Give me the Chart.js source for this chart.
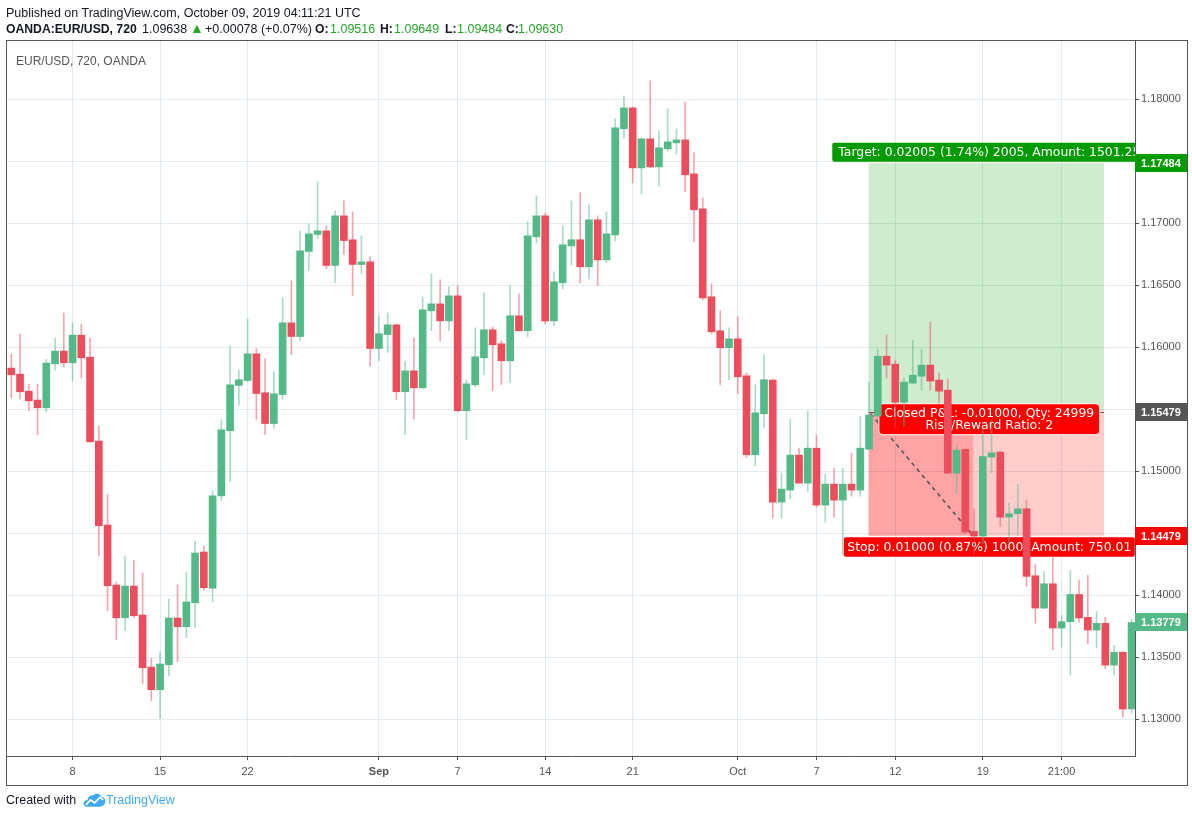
<!DOCTYPE html>
<html><head><meta charset="utf-8">
<script src="https://cdn.jsdelivr.net/npm/chart.js@4.4.0/dist/chart.umd.min.js"></script>
<style>
html,body{margin:0;padding:0;background:#fff;width:1192px;height:818px;overflow:hidden;}
#wrap{position:relative;width:1192px;height:818px;}
canvas{position:absolute;left:0;top:0;}
.t{position:absolute;white-space:nowrap;font-family:"Liberation Sans",Arial,sans-serif;font-size:12.5px;line-height:14px;color:#131722;}
.b{font-weight:bold;font-size:12.2px;}
.g{color:#26a626;}
</style></head><body>
<div id="wrap">
<canvas id="c" width="1192" height="818"></canvas>
<div class="t" style="left:6px;top:6px;">Published on TradingView.com, October 09, 2019 04:11:21 UTC</div>
<div class="t b" style="left:6px;top:22px;">OANDA:EUR/USD, 720</div>
<div class="t" style="left:142px;top:22px;">1.09638</div>
<div class="t g" style="left:190px;top:21px;font-size:14px;">▲</div>
<div class="t" style="left:205px;top:22px;">+0.00078 (+0.07%)</div>
<div class="t b" style="left:315px;top:22px;">O:</div><div class="t g" style="left:330px;top:22px;">1.09516</div>
<div class="t b" style="left:380px;top:22px;">H:</div><div class="t g" style="left:394px;top:22px;">1.09649</div>
<div class="t b" style="left:445px;top:22px;">L:</div><div class="t g" style="left:457px;top:22px;">1.09484</div>
<div class="t b" style="left:506px;top:22px;">C:</div><div class="t g" style="left:518px;top:22px;">1.09630</div>
<div class="t" style="left:16px;top:54px;font-size:12px;color:#555;">EUR/USD, 720, OANDA</div>
<div class="t" style="left:6px;top:793px;">Created with</div>
<svg style="position:absolute;left:83px;top:792px;" width="23" height="16" viewBox="0 0 24 16"><path d="M5 15 C1.5 15 0 12.5 0.8 10.5 C1.5 8.5 3.5 8 4.5 8.2 C5 4.5 8 2.5 11 3 C13.5 0.5 18 1 19.5 4.5 C22.5 5 24 8 23 11 C22.3 13.5 20.5 15 18 15 Z" fill="#3fa9f5"/><polyline points="3,13 8,8 12,11 18,5 21,8" fill="none" stroke="#fff" stroke-width="1.8"/></svg>
<div class="t" style="left:106px;top:793px;color:#3fa9f5;">TradingView</div>
</div>
<script>
// ---- data (EUR/USD 12h candles) ----
const openP = [
1.15831,1.15782,1.15645,1.15573,1.15511,1.15866,1.15968,1.15874,1.16097,1.15919,
1.15242,1.14565,1.14081,1.13817,1.14073,1.13839,1.13419,1.13237,1.13438,1.13815,
1.13745,1.13938,1.14347,1.14056,1.14800,1.15325,1.15691,1.15731,1.15946,1.15632,
1.15384,1.15618,1.16196,1.16086,1.16772,1.16909,1.16938,1.16659,1.17059,1.16866,
1.16667,1.16688,1.15989,1.16102,1.16180,1.15640,1.15809,1.15672,1.16293,1.16349,
1.16212,1.16414,1.15487,1.15696,1.15914,1.16140,1.16027,1.15890,1.16253,1.16132,
1.16890,1.17059,1.16212,1.16519,1.16817,1.16866,1.16648,1.17027,1.16704,1.16906,
1.17761,1.17930,1.17446,1.17680,1.17454,1.17600,1.17648,1.17672,1.17398,1.17116,
1.16406,1.16132,1.15995,1.16067,1.15769,1.15132,1.15462,1.15734,1.14750,1.14847,
1.15129,1.14903,1.15185,1.14726,1.14895,1.14766,1.14895,1.14847,1.15177,1.15444,
1.15927,1.15863,1.15556,1.15710,1.15766,1.15855,1.15734,1.15653,1.14984,1.15175,
1.14513,1.14476,1.15113,1.15153,1.14629,1.14656,1.14696,1.14156,1.13895,1.14091,
1.13734,1.13785,1.14005,1.13820,1.13718,1.13772,1.13435,1.13538,1.13081];
const highP = [
1.15944,1.16105,1.15702,1.15702,1.15901,1.16073,1.16274,1.16194,1.16185,1.16073,
1.15363,1.14815,1.14105,1.14315,1.14282,1.14177,1.13492,1.13540,1.13968,1.14081,
1.14185,1.14435,1.14395,1.14840,1.15414,1.16011,1.15817,1.16228,1.15987,1.15906,
1.15801,1.16398,1.16535,1.16938,1.16995,1.17333,1.16978,1.17099,1.17180,1.17091,
1.16898,1.16728,1.16253,1.16277,1.16188,1.15887,1.16075,1.16406,1.16591,1.16543,
1.16487,1.16495,1.15737,1.16156,1.16438,1.16164,1.16051,1.16495,1.16430,1.17011,
1.17220,1.17083,1.16608,1.16978,1.17180,1.17245,1.17148,1.17059,1.17091,1.17841,
1.18027,1.17938,1.17688,1.18148,1.17745,1.17922,1.17761,1.17978,1.17567,1.17204,
1.16511,1.16293,1.16156,1.16245,1.15793,1.15696,1.15938,1.15742,1.14984,1.15419,
1.15185,1.15484,1.15290,1.14976,1.15024,1.15024,1.15145,1.15444,1.15718,1.15984,
1.16097,1.15892,1.15750,1.16056,1.15984,1.16202,1.15790,1.15742,1.15207,1.15180,
1.14696,1.15333,1.15409,1.15161,1.14742,1.14892,1.14763,1.14247,1.14191,1.14317,
1.13836,1.14199,1.14118,1.14159,1.13868,1.13820,1.13594,1.13546,1.13804];
const lowP = [
1.15591,1.15583,1.15487,1.15293,1.15478,1.15817,1.15841,1.15726,1.15750,1.15230,
1.14315,1.13874,1.13640,1.13712,1.13820,1.13285,1.13148,1.13003,1.13350,1.13462,
1.13656,1.13737,1.14040,1.13946,1.14760,1.14914,1.15530,1.15723,1.15417,1.15296,
1.15344,1.15578,1.15941,1.16054,1.16618,1.16876,1.16634,1.16522,1.16747,1.16417,
1.16594,1.15844,1.15890,1.15957,1.15575,1.15293,1.15422,1.15664,1.16132,1.16051,
1.16132,1.15480,1.15253,1.15680,1.15777,1.15648,1.15696,1.15712,1.16130,1.16083,
1.16841,1.16188,1.16172,1.16470,1.16664,1.16519,1.16551,1.16495,1.16680,1.16858,
1.17688,1.17325,1.17237,1.17446,1.17301,1.17583,1.17559,1.17253,1.16849,1.16382,
1.16108,1.15696,1.15737,1.15624,1.15108,1.15043,1.15349,1.14621,1.14621,1.14774,
1.14900,1.14831,1.14710,1.14589,1.14629,1.14323,1.14798,1.14798,1.15170,1.15400,
1.15750,1.15347,1.15363,1.15710,1.15653,1.15653,1.15550,1.14984,1.14817,1.14500,
1.14333,1.14414,1.14987,1.14554,1.14374,1.14481,1.14070,1.13774,1.13890,1.13559,
1.13581,1.13355,1.13782,1.13608,1.13573,1.13406,1.13355,1.13016,1.13048];
const closeP = [
1.15777,1.15640,1.15567,1.15511,1.15871,1.15968,1.15874,1.16097,1.15914,1.15237,
1.14559,1.14075,1.13817,1.14073,1.13833,1.13414,1.13237,1.13444,1.13815,1.13745,
1.13944,1.14339,1.14059,1.14800,1.15333,1.15696,1.15737,1.15946,1.15626,1.15384,
1.15624,1.16196,1.16086,1.16777,1.16914,1.16938,1.16659,1.17059,1.16860,1.16667,
1.16688,1.15989,1.16108,1.16180,1.15640,1.15809,1.15672,1.16301,1.16349,1.16212,
1.16414,1.15487,1.15704,1.15922,1.16140,1.16019,1.15890,1.16253,1.16132,1.16898,
1.17059,1.16212,1.16527,1.16825,1.16866,1.16648,1.17027,1.16704,1.16914,1.17769,
1.17930,1.17446,1.17680,1.17454,1.17608,1.17656,1.17672,1.17390,1.17108,1.16398,
1.16124,1.15995,1.16067,1.15761,1.15132,1.15470,1.15737,1.14750,1.14855,1.15129,
1.14903,1.15185,1.14726,1.14895,1.14766,1.14895,1.14847,1.15185,1.15452,1.15927,
1.15855,1.15556,1.15718,1.15774,1.15855,1.15726,1.15645,1.14984,1.15169,1.14508,
1.14476,1.15118,1.15148,1.14629,1.14656,1.14696,1.14151,1.13895,1.14091,1.13734,
1.13785,1.14005,1.13815,1.13718,1.13772,1.13435,1.13538,1.13081,1.13779];

const xTickIdx = [7, 17, 27, 42, 51, 61, 71, 83, 92, 101, 111, 120];
const xTickLbl = ['8', '15', '22', 'Sep', '7', '14', '21', 'Oct', '7', '12', '19', '21:00'];
const yTicks = [1.13, 1.135, 1.14, 1.145, 1.15, 1.155, 1.16, 1.165, 1.17, 1.175, 1.18];
const yHidden = [1.145, 1.155, 1.175];

// position tool (long position)
const entryPrice = 1.15479, targetPrice = 1.17484, stopPrice = 1.14479, lastPrice = 1.13779;
const posStartIdx = 97.95, posEndIdx = 124.85, posCloseIdx = 109.9;
const targetText = 'Target: 0.02005 (1.74%) 2005, Amount: 1501.25';
const closedText = ['Closed P&L: -0.01000, Qty: 24999', 'Risk/Reward Ratio: 2'];
const stopText = 'Stop: 0.01000 (0.87%) 1000, Amount: 750.01';

// ---- styles ----
const UP = '#53b987', DN = '#eb4d5c', UPW = 'rgba(83,185,135,0.5)', DNW = 'rgba(235,77,92,0.5)';
const GRID = '#e1ecf2', AX = '#555';

const idx = openP.map((_, i) => i);
const up = idx.map(i => closeP[i] >= openP[i]);
const bodyData = idx.map(i => ({x: i, y: [Math.min(openP[i], closeP[i]), Math.max(openP[i], closeP[i])]}));
const wickData = idx.map(i => ({x: i, y: [lowP[i], highP[i]]}));

function drawLabel(ctx, lines, cx, top, h, pad, color, border) {
  ctx.font = '12.4px "DejaVu Sans", Verdana, sans-serif';
  const w = Math.max(...lines.map(l => ctx.measureText(l).width)) + pad * 2;
  const x = cx - w / 2;
  ctx.beginPath();
  ctx.roundRect(x, top, w, h, border ? 4 : 2);
  ctx.fillStyle = color; ctx.fill();
  if (border) { ctx.strokeStyle = '#fff'; ctx.lineWidth = 1; ctx.stroke(); }
  ctx.fillStyle = '#fff'; ctx.textAlign = 'center'; ctx.textBaseline = 'middle';
  const n = lines.length;
  lines.forEach((l, k) => ctx.fillText(l, cx, top + h / 2 + (k - (n - 1) / 2) * 12 + 0.5));
}

const overlay = {
  id: 'overlay',
  beforeDatasetsDraw(chart) {
    const {ctx, chartArea: a, scales: {x, y}} = chart;
    ctx.save();
    ctx.beginPath(); ctx.rect(a.left, a.top, a.right - a.left, a.bottom - a.top); ctx.clip();
    const x0 = x.getPixelForValue(posStartIdx), x1 = x.getPixelForValue(posEndIdx), xc = x.getPixelForValue(posCloseIdx);
    const yT = y.getPixelForValue(targetPrice), yE = y.getPixelForValue(entryPrice), yS = y.getPixelForValue(stopPrice);
    ctx.fillStyle = 'rgba(0,153,0,0.19)'; ctx.fillRect(x0, yT, x1 - x0, yE - yT);
    ctx.fillStyle = 'rgba(255,0,0,0.2)'; ctx.fillRect(x0, yE, x1 - x0, yS - yE);
    ctx.fillRect(x0, yE, xc - x0, yS - yE);
    ctx.strokeStyle = '#555'; ctx.lineWidth = 1;
    ctx.beginPath(); ctx.moveTo(x0, Math.round(yE) + 0.5); ctx.lineTo(x1, Math.round(yE) + 0.5); ctx.stroke();
    ctx.setLineDash([4, 4]); ctx.lineWidth = 1.6;
    ctx.beginPath(); ctx.moveTo(x0 + 2, yE + 2); ctx.lineTo(xc, yS); ctx.stroke(); ctx.setLineDash([]);
    const cx = (x0 + x1) / 2 + 3;
    drawLabel(ctx, [targetText], cx, yT - 20.5, 19, 6, '#009b00', false);
    drawLabel(ctx, closedText, cx, yE - 8, 31, 5.5, '#ff0000', true);
    drawLabel(ctx, [stopText], cx, yS + 1.5, 19.5, 3.5, '#ff0000', false);
    ctx.restore();
  },
  afterDraw(chart) {
    const {ctx, chartArea: a, scales: {y}} = chart;
    ctx.save();
    const boxes = [[targetPrice, '#009b00'], [entryPrice, '#555555'], [stopPrice, '#ff0000'], [lastPrice, UP]];
    ctx.font = 'bold 11px "Liberation Sans", Arial, sans-serif';
    ctx.textAlign = 'left'; ctx.textBaseline = 'middle';
    boxes.forEach(([p, c]) => {
      const yy = y.getPixelForValue(p);
      ctx.fillStyle = c; ctx.fillRect(a.right, Math.round(yy) - 9, 1188 - a.right, 18);
      ctx.fillStyle = '#fff'; ctx.fillText(p.toFixed(5), a.right + 6, Math.round(yy) + 0.5);
    });
    ctx.strokeStyle = AX; ctx.lineWidth = 1;
    ctx.strokeRect(6.5, 40.5, 1181, 745);
    ctx.restore();
  }
};

const Y_MAX = 1.184696, Y_MIN = 1.127019;
new Chart(document.getElementById('c'), {
  type: 'bar',
  data: {datasets: [
    {data: bodyData, backgroundColor: up.map(u => u ? UP : DN), barThickness: 7, grouped: false, order: 0, minBarLength: 1, borderWidth: 0},
    {data: wickData, backgroundColor: up.map(u => u ? UPW : DNW), barThickness: 1, grouped: false, order: 1, borderWidth: 0}
  ]},
  options: {
    responsive: false, animation: false, devicePixelRatio: 1,
    layout: {padding: {left: 7, top: 41, right: 5, bottom: 32}},
    plugins: {legend: {display: false}, tooltip: {enabled: false}},
    scales: {
      x: {
        type: 'linear', min: -0.49, max: 128.39, offset: false,
        afterBuildTicks: s => { s.ticks = xTickIdx.map(v => ({value: v})); },
        afterFit: s => { s.height = 30; },
        ticks: {
          autoSkip: false, maxRotation: 0, padding: 5, color: '#555',
          font: c => ({family: '"Liberation Sans", Arial, sans-serif', size: 11,
            weight: (c.tick && (xTickLbl[xTickIdx.indexOf(c.tick.value)] === 'Sep')) ? 'bold' : 'normal'}),
          callback: v => { const k = xTickIdx.indexOf(v); return k >= 0 ? xTickLbl[k] : ''; }
        },
        grid: {color: GRID, tickColor: AX, tickLength: 4, offset: false},
        border: {display: true, color: AX}
      },
      y: {
        position: 'right', min: Y_MIN, max: Y_MAX, beginAtZero: false,
        afterBuildTicks: s => { s.ticks = yTicks.map(v => ({value: v})); },
        afterFit: s => { s.width = 52; },
        ticks: {
          autoSkip: false, padding: 2, color: '#555',
          font: {family: '"Liberation Sans", Arial, sans-serif', size: 11},
          callback: v => yHidden.some(h => Math.abs(h - v) < 1e-7) ? '' : Number(v).toFixed(5)
        },
        grid: {color: GRID, tickColor: AX, tickLength: 4},
        border: {display: true, color: AX}
      }
    }
  },
  plugins: [overlay]
});
</script>
</body></html>
